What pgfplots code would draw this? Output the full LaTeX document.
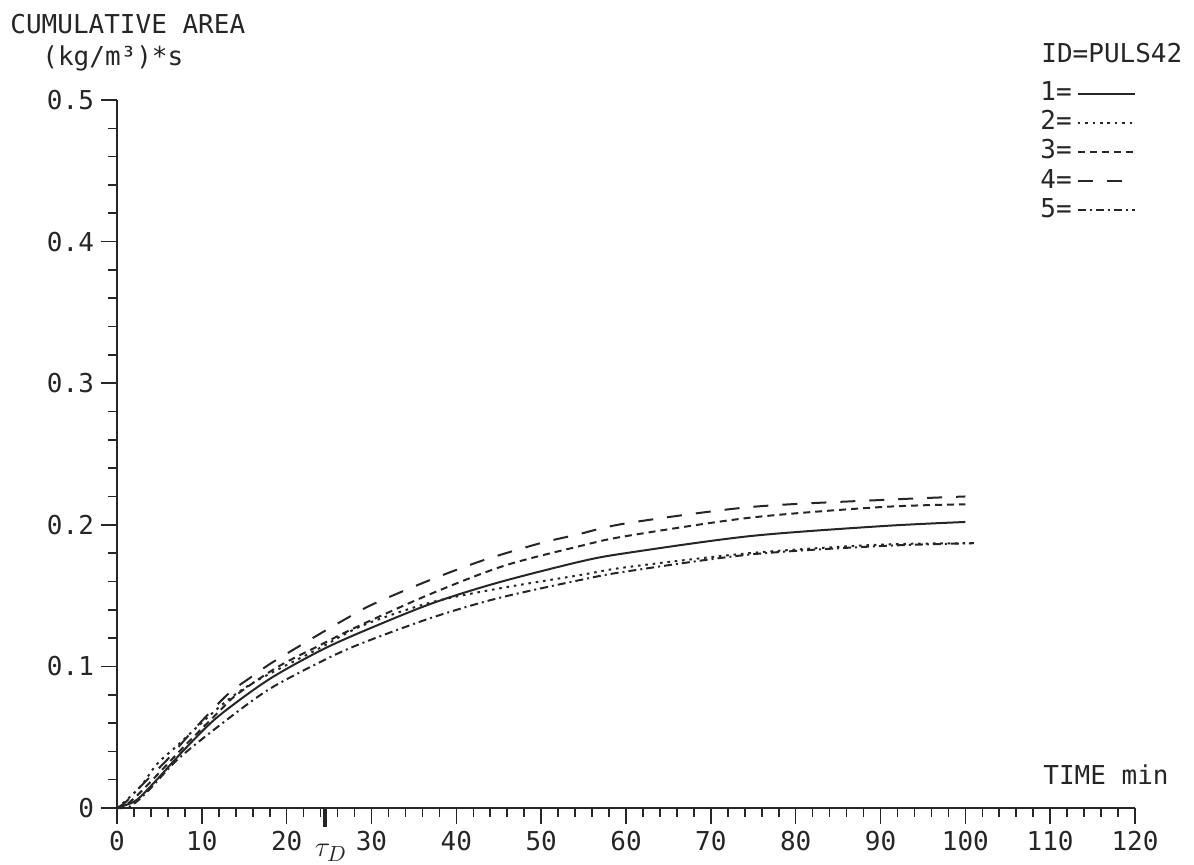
\documentclass[border=0pt]{standalone}
\usepackage{pgfplots}
\pgfplotsset{compat=1.18}
\usepackage{fontspec}
\setmainfont{DejaVu Sans Mono}
\definecolor{ink}{gray}{0.15}
\pgfplotstableread{
x y
0 0
1 0.002
2.4 0.006
4.7 0.020
7.9 0.041
11.8 0.064
17.7 0.090
23.6 0.110
28.3 0.123
36.9 0.144
44.8 0.159
54.6 0.174
60 0.180
74.6 0.192
90 0.199
100 0.202
}\curveA
\pgfplotstableread{
x y
0 0
1 0.005
2.9 0.016
4.7 0.031
7.1 0.044
9.4 0.057
13 0.076
16.5 0.090
23.6 0.112
29 0.129
36.9 0.145
45 0.155
54.6 0.1645
60 0.170
74.6 0.180
90 0.186
101 0.187
}\curveB
\pgfplotstableread{
x y
0 0
1 0.002
2.4 0.009
5 0.025
8 0.044
12 0.068
14.1 0.080
18.9 0.0995
23.6 0.114
28.3 0.128
36.9 0.151
45.6 0.171
54.6 0.185
60 0.192
74.6 0.205
90 0.2125
100 0.2145
}\curveC
\pgfplotstableread{
x y
0 0
1 0.004
2.4 0.013
5.9 0.034
9 0.055
13 0.080
15.7 0.092
18.1 0.102
21.4 0.114
24.2 0.124
27.1 0.134
30.2 0.144
36.9 0.161
43.2 0.175
49.9 0.187
54.2 0.193
60 0.201
74.6 0.2125
90 0.2175
100 0.220
}\curveD
\pgfplotstableread{
x y
0 0
1.5 0.001
3.5 0.011
7.1 0.034
11.8 0.057
17.7 0.083
23.6 0.102
28.3 0.115
36.9 0.134
44.8 0.148
54.6 0.161
60 0.167
74.6 0.179
90 0.185
101 0.187
}\curveE
\begin{document}
\begin{tikzpicture}
\useasboundingbox (-58.5pt,-28.5pt) rectangle (538.5pt,404pt);
\begin{axis}[
  at={(0,0)}, anchor=south west,
  scale only axis, width=509pt, height=354pt,
  xmin=0, xmax=120, ymin=0, ymax=0.5,
  axis x line=bottom, axis y line=left,
  axis line style={-, line width=0.9pt, ink},
  xtick={0,10,20,30,40,50,60,70,80,90,100,110,120},
  ytick={0,0.1,0.2,0.3,0.4,0.5},
  minor x tick num=4, minor y tick num=4,
  tick align=outside,
  major tick length=8pt, minor tick length=4.5pt,
  every tick/.style={line width=0.8pt, ink},
  extra x ticks={24.5},
  extra x tick labels={$\tau_{D}$},
  extra x tick style={major tick length=9.5pt, every tick/.style={line width=2pt, ink},
     xticklabel style={font=\fontsize{15}{17}\selectfont, xshift=3pt, yshift=-5pt}},
  tick label style={font=\fontsize{13}{15}\selectfont, ink},
  /pgf/number format/assume math mode=true,
  yticklabel={\pgfmathprintnumber[fixed,precision=1]{\tick}},
  legend style={at={(axis description cs:0.9057,1.028)}, anchor=north west,
     draw=none, fill=none, inner sep=0pt, font=\fontsize{13}{15}\selectfont,
     nodes={inner sep=0.5pt, text height=9.5pt, text depth=2.5pt, text=ink},
     row sep=1.6pt, column sep=2pt},
  legend plot pos=right,
  legend cell align=left,
  legend image code/.code={\draw[#1] (0pt,0pt) -- (28.5pt,0pt);},
  cycle list={{ink}},
  every axis plot/.append style={line width=1pt, ink, no markers, smooth, tension=0.5},
  clip=false,
]
\addplot[solid] table[x=x,y=y]{\curveA};
\addlegendentry{1=}
\addplot[dash pattern=on 1.3pt off 2.4pt] table[x=x,y=y]{\curveB};
\addlegendentry{2=}
\addplot[dash pattern=on 3.5pt off 2.5pt] table[x=x,y=y]{\curveC};
\addlegendentry{3=}
\addplot[dash pattern=on 7.5pt off 7pt] table[x=x,y=y]{\curveD};
\addlegendentry{4=}
\addplot[dash pattern=on 4pt off 2pt on 1pt off 2pt] table[x=x,y=y]{\curveE};
\addlegendentry{5=}
\end{axis}
\node[anchor=west, inner sep=0pt, text=ink, font=\fontsize{13}{15}\selectfont] at (-53.5pt,392pt) {CUMULATIVE AREA};
\node[anchor=west, inner sep=0pt, text=ink, font=\fontsize{13}{15}\selectfont] at (-37.5pt,375pt) {(kg/m³)*s};
\node[anchor=west, inner sep=0pt, text=ink, font=\fontsize{13}{15}\selectfont] at (462pt,377.5pt) {ID=PULS42};
\node[anchor=west, inner sep=0pt, text=ink, font=\fontsize{13}{15}\selectfont] at (463pt,16.5pt) {TIME min};
\end{tikzpicture}
\end{document}
